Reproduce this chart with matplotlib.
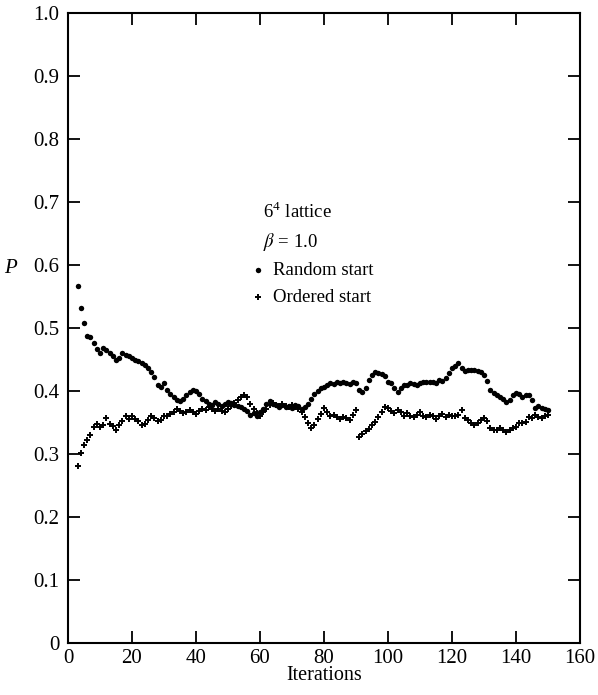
import matplotlib
matplotlib.use("Agg")
import matplotlib.pyplot as plt
import numpy as np

iterations = list(range(3, 151))

random_start = [
    0.567, 0.531, 0.508, 0.487, 0.485, 0.476, 0.467, 0.461, 0.469, 0.465,
    0.460, 0.456, 0.450, 0.453, 0.461, 0.457, 0.456, 0.453, 0.450, 0.448,
    0.445, 0.441, 0.437, 0.430, 0.422, 0.410, 0.407, 0.412, 0.402, 0.395,
    0.391, 0.386, 0.384, 0.387, 0.393, 0.398, 0.402, 0.400, 0.396, 0.388,
    0.384, 0.380, 0.378, 0.382, 0.380, 0.376, 0.379, 0.383, 0.381, 0.378,
    0.376, 0.375, 0.372, 0.368, 0.362, 0.365, 0.361, 0.366, 0.372, 0.380,
    0.384, 0.380, 0.378, 0.375, 0.377, 0.374, 0.376, 0.373, 0.378, 0.376,
    0.372, 0.374, 0.380, 0.388, 0.395, 0.400, 0.404, 0.407, 0.410, 0.413,
    0.411, 0.414, 0.412, 0.415, 0.413, 0.411, 0.414, 0.412, 0.401, 0.398,
    0.405, 0.418, 0.426, 0.430, 0.429, 0.427, 0.424, 0.414, 0.412, 0.404,
    0.399, 0.405, 0.409, 0.410, 0.412, 0.411, 0.410, 0.412, 0.415, 0.414,
    0.414, 0.415, 0.413, 0.417, 0.416, 0.420, 0.428, 0.436, 0.440, 0.444,
    0.436, 0.431, 0.433, 0.433, 0.433, 0.432, 0.430, 0.425, 0.416, 0.402,
    0.397, 0.394, 0.390, 0.388, 0.383, 0.386, 0.394, 0.397, 0.395, 0.391,
    0.393, 0.394, 0.386, 0.373, 0.376, 0.373, 0.372, 0.370,
]

ordered_start = [
    0.281, 0.302, 0.314, 0.322, 0.330, 0.343, 0.348, 0.343, 0.346, 0.357,
    0.348, 0.344, 0.338, 0.346, 0.352, 0.360, 0.355, 0.360, 0.356, 0.352,
    0.346, 0.348, 0.354, 0.360, 0.357, 0.352, 0.354, 0.360, 0.360, 0.363,
    0.367, 0.371, 0.368, 0.365, 0.367, 0.370, 0.366, 0.364, 0.369, 0.372,
    0.370, 0.374, 0.371, 0.368, 0.372, 0.369, 0.366, 0.371, 0.376, 0.381,
    0.386, 0.390, 0.394, 0.390, 0.380, 0.371, 0.365, 0.360, 0.366, 0.372,
    0.378, 0.381, 0.378, 0.376, 0.379, 0.376, 0.374, 0.377, 0.375, 0.372,
    0.366, 0.358, 0.350, 0.342, 0.346, 0.355, 0.364, 0.373, 0.366, 0.360,
    0.362, 0.358, 0.356, 0.359, 0.357, 0.354, 0.362, 0.370, 0.327, 0.331,
    0.336, 0.340, 0.346, 0.351, 0.358, 0.366, 0.375, 0.373, 0.369, 0.365,
    0.370, 0.366, 0.361, 0.365, 0.361, 0.358, 0.362, 0.366, 0.361, 0.358,
    0.362, 0.360, 0.356, 0.360, 0.363, 0.358, 0.362, 0.360, 0.360, 0.362,
    0.370, 0.357, 0.354, 0.350, 0.346, 0.350, 0.354, 0.357, 0.352, 0.341,
    0.338, 0.338, 0.341, 0.338, 0.335, 0.338, 0.341, 0.343, 0.349, 0.350,
    0.351, 0.359, 0.357, 0.362, 0.358, 0.357, 0.360, 0.362,
]

x_ticks = [0, 20, 40, 60, 80, 100, 120, 140, 160]
y_ticks = [0, 0.1, 0.2, 0.3, 0.4, 0.5, 0.6, 0.7, 0.8, 0.9, 1.0]
y_tick_labels = ["0", "0.1", "0.2", "0.3", "0.4", "0.5", "0.6", "0.7", "0.8", "0.9", "1.0"]

plt.rcParams["font.family"] = ["Liberation Serif", "DejaVu Serif"]
plt.rcParams["mathtext.fontset"] = "stix"

fig = plt.figure(figsize=(5.98, 6.95), dpi=100)
ax = fig.add_axes([68 / 598, 1 - 643 / 695, 512 / 598, 630 / 695])

ax.plot(iterations, random_start, linestyle="none", marker="o", markersize=3.9,
        color="black", markeredgewidth=0)
ax.plot(iterations, ordered_start, linestyle="none", marker="+", markersize=4.8,
        color="black", markeredgewidth=1.4)

ax.set_xlim(0, 160)
ax.set_ylim(0, 1.0)
ax.set_xticks(x_ticks)
ax.set_yticks(y_ticks)
ax.set_yticklabels(y_tick_labels)
ax.tick_params(direction="in", length=8.5, width=1.3, top=True, right=True,
               labelsize=15, pad=6, colors="black")
ax.tick_params(axis="x", pad=4)
for s in ax.spines.values():
    s.set_linewidth(1.5)

ax.set_xlabel("Iterations", fontsize=14.5, labelpad=-1)
ax.text(-0.113, 0.595, "P", transform=ax.transAxes, fontsize=15,
        style="italic", ha="center", va="center")

ax.text(61, 0.684, r"6$^{\mathregular{4}}$ lattice", fontsize=13.5, ha="left", va="center")
ax.text(61, 0.637, r"$\beta$ = 1.0", fontsize=13.5, ha="left", va="center")
ax.plot([59.4], [0.592], linestyle="none", marker="o", markersize=3.9,
        color="black", markeredgewidth=0)
ax.text(64, 0.592, "Random start", fontsize=13.5, ha="left", va="center")
ax.plot([59.4], [0.549], linestyle="none", marker="+", markersize=4.8,
        color="black", markeredgewidth=1.4)
ax.text(64, 0.549, "Ordered start", fontsize=13.5, ha="left", va="center")

fig.savefig("out.png", dpi=100)
